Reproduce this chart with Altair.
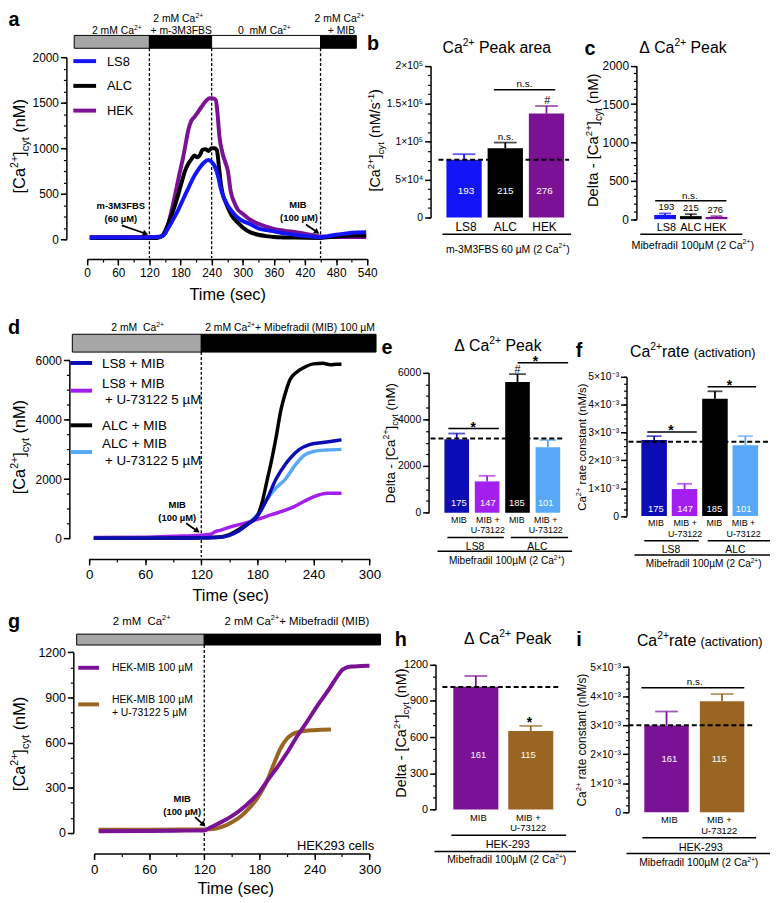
import math
import altair as alt
import pandas as pd

FONT = "Liberation Sans"
W, H = 770, 895

# ---------------- data ----------------
# (a) [Ca2+]cyt time courses (sec, nM)
a_ls8_t = [5, 30, 60, 90, 120, 135, 145, 155, 165, 175, 185, 195, 205, 215, 225, 233, 240, 246, 252, 258, 264, 271, 280, 290, 300, 315, 330, 345, 360, 380, 405, 430, 450, 465, 480, 500, 520, 538]
a_ls8_v = [20, 20, 20, 20, 22, 25, 35, 110, 210, 315, 440, 560, 680, 770, 840, 870, 850, 800, 700, 550, 450, 370, 300, 240, 200, 165, 120, 100, 87, 65, 47, 32, 22, 35, 50, 65, 75, 78]
a_alc_t = [5, 30, 60, 90, 120, 135, 145, 155, 165, 175, 182, 188, 195, 201, 207, 212, 218, 222, 228, 234, 240, 246, 250, 254, 258, 262, 266, 272, 280, 290, 300, 315, 330, 345, 360, 400, 450, 480, 510, 538]
a_alc_v = [15, 15, 15, 15, 15, 15, 40, 150, 300, 480, 620, 740, 830, 880, 920, 900, 930, 980, 990, 970, 1000, 1000, 980, 800, 600, 480, 420, 340, 250, 185, 130, 76, 50, 35, 25, 18, 15, 30, 40, 40]
a_hek_t = [5, 30, 60, 90, 120, 140, 150, 160, 170, 178, 185, 190, 195, 200, 207, 214, 220, 230, 236, 242, 248, 251, 255, 261, 266, 271, 277, 284, 290, 300, 315, 330, 345, 360, 380, 405, 430, 450, 480, 510, 538]
a_hek_v = [25, 25, 25, 25, 25, 28, 60, 250, 500, 720, 900, 1050, 1200, 1290, 1345, 1400, 1450, 1525, 1550, 1550, 1530, 1400, 1130, 945, 850, 760, 520, 400, 330, 280, 212, 170, 140, 115, 95, 75, 50, 30, 25, 25, 25]
a_cond_t0 = [-25, 120, 240, 450]
a_cond_t1 = [120, 240, 450, 519]
a_cond_fill = ["#a6a6a6", "#000000", "#ffffff", "#000000"]
a_marks = [120, 240, 450]

# (d) Mibefradil time courses
d_ls8_t = [5, 60, 100, 120, 140, 150, 160, 170, 180, 190, 200, 210, 215, 225, 235, 250, 265, 270]
d_ls8_v = [10, 10, 15, 20, 40, 100, 250, 480, 750, 1300, 2000, 2500, 2700, 3000, 3150, 3230, 3300, 3320]
d_lsu_t = [5, 60, 90, 120, 130, 135, 140, 152, 165, 180, 195, 210, 220, 230, 240, 255, 270]
d_lsu_v = [30, 40, 70, 110, 140, 230, 270, 400, 500, 640, 800, 950, 1080, 1250, 1400, 1520, 1520]
d_alc_t = [5, 60, 100, 120, 140, 150, 160, 170, 180, 185, 190, 195, 200, 205, 210, 215, 222, 230, 240, 250, 258, 265, 270]
d_alc_v = [10, 10, 15, 20, 50, 130, 300, 500, 760, 1200, 1900, 2600, 3400, 4300, 4900, 5350, 5600, 5760, 5880, 5900, 5850, 5870, 5870]
d_alu_t = [5, 60, 100, 120, 140, 150, 160, 170, 180, 190, 200, 210, 220, 230, 240, 255, 270]
d_alu_v = [10, 10, 15, 20, 40, 100, 280, 500, 800, 1300, 1700, 2000, 2450, 2800, 2930, 2980, 3000]
d_cond_t0 = [-18, 120]
d_cond_t1 = [120, 307]
d_cond_fill = ["#a6a6a6", "#000000"]

# (g) HEK293 time courses
g_mib_t = [5, 60, 100, 120, 125, 135, 150, 165, 180, 188, 200, 210, 221, 230, 242, 257, 265, 271, 280, 290, 300]
g_mib_v = [10, 12, 14, 15, 30, 60, 110, 180, 270, 340, 440, 530, 640, 720, 833, 965, 1040, 1086, 1105, 1108, 1110]
g_u_t = [5, 60, 100, 120, 130, 140, 150, 160, 170, 180, 188, 196, 203, 210, 216, 225, 240, 258]
g_u_v = [20, 20, 21, 22, 25, 40, 70, 110, 170, 250, 340, 460, 560, 625, 655, 672, 682, 686]
g_cond_t0 = [-19, 120]
g_cond_t1 = [120, 312]
g_cond_fill = ["#a6a6a6", "#000000"]

# bar panels
b_cats = ["LS8", "ALC", "HEK"]
b_mean = [76000, 91300, 137000]
b_sem = [7500, 7500, 10000]
b_n = ["193", "215", "276"]
b_ref = 76000
c_mean = [55, 40, 30]
c_sem = [20, 25, 10]
e_cats = ["LS8 MIB", "LS8 MIB+U", "ALC MIB", "ALC MIB+U"]
e_labels = ["MIB", "MIB +\nU-73122", "MIB", "MIB +\nU-73122"]
e_mean = [3140, 1340, 5600, 2800]
e_sem = [250, 240, 330, 310]
e_n = ["175", "147", "185", "101"]
e_ref = 3180
f_mean = [0.00273, 0.00097, 0.00421, 0.00254]
f_sem = [0.00014, 0.00019, 0.00027, 0.00033]
f_ref = 0.00267
h_cats = ["MIB", "MIB+U"]
h_labels = ["MIB", "MIB +\nU-73122"]
h_mean = [1017, 649]
h_sem = [88, 43]
h_n = ["161", "115"]
h_ref = 1014
i_mean = [0.00299, 0.00382]
i_sem = [0.00048, 0.00025]
i_ref = 0.0030

# colours
BLUE = "#1414f8"
PURP = "#7b1296"
DBLUE = "#0c0cb4"
MAG = "#a21ff0"
LBLUE = "#57a8f6"
BROWN = "#9a6522"

# ---------------- helpers ----------------
AW = {' ': 278, '\u00a0': 278, '#': 556, '(': 333, ')': 333, '*': 389, '+': 584, ',': 278, '-': 333,
      '.': 278, '/': 278, ':': 278, '[': 278, ']': 278, 'µ': 556, '×': 584, 'Δ': 668,
      'A': 667, 'B': 667, 'C': 722, 'D': 722, 'E': 667, 'F': 611, 'G': 778, 'H': 722, 'I': 278,
      'J': 500, 'K': 667, 'L': 556, 'M': 833, 'N': 722, 'O': 778, 'P': 667, 'Q': 778, 'R': 722,
      'S': 667, 'T': 611, 'U': 722, 'V': 667, 'W': 944, 'X': 667, 'Y': 667, 'Z': 611,
      'a': 556, 'b': 556, 'c': 500, 'd': 556, 'e': 556, 'f': 278, 'g': 556, 'h': 556, 'i': 222,
      'j': 222, 'k': 500, 'l': 222, 'm': 833, 'n': 556, 'o': 556, 'p': 556, 'q': 556, 'r': 333,
      's': 500, 't': 278, 'u': 556, 'v': 500, 'w': 722, 'x': 500, 'y': 500, 'z': 500}


def tw(s, size):
    return sum(AW.get(ch, 556) for ch in s) * size / 1000.0


def V(p):
    return p - 8


rows_left, rows_center, rows_bold, rule_rows, heads = [], [], [], [], []


def nb(s):
    return s.replace(' ', '\u00a0')


def add_center(x, y, text, size, bold=False, color='black'):
    row = dict(x=V(x), y=V(y + 0.35 * size), text=nb(text), size=size, angle=0, color=color)
    (rows_bold if bold else rows_center).append(row)


def add_rich(x, y, segs, size, angle=0, anchor='center', color='black'):
    parts = []
    for t, k in segs:
        if k == 'sup':
            s, sh = size * 0.65, -0.42 * size
        elif k == 'sub':
            s, sh = size * 0.68, 0.25 * size
        elif isinstance(k, (int, float)):
            s, sh = size * k, 0
        else:
            s, sh = size, 0
        parts.append((t, s, sh, tw(t, s)))
    total = sum(p[3] for p in parts)
    cum = {'center': -total / 2, 'left': 0, 'right': -total}[anchor]
    for t, s, sh, w in parts:
        body = t.lstrip(' ')
        pos = cum + tw(t[:len(t) - len(body)], s)
        if angle == 0:
            px, py = x + pos, y + 0.35 * size + sh
        else:
            px, py = x + 0.35 * size + sh, y - pos
        rows_left.append(dict(x=V(px), y=V(py), text=nb(body), size=s, angle=angle, color=color))
        cum += w


def add_line(x1, y1, x2, y2, color='black', w=1.5):
    rule_rows.append(dict(x=V(x1), x2=V(x2), y=V(y1), y2=V(y2), color=color, w=w))


def add_arrow(x1, y1, x2, y2):
    dx, dy = x2 - x1, y2 - y1
    L = math.hypot(dx, dy)
    ux, uy = dx / L, dy / L
    add_line(x1, y1, x2 - 4 * ux, y2 - 4 * uy, 'black', 1.8)
    heads.append(dict(x=V(x2 - 3 * ux), y=V(y2 - 3 * uy), ang=math.degrees(math.atan2(dx, -dy)) % 360))


def lin(d0, d1, p0, p1):
    return alt.Scale(domain=[d0, d1], range=[V(p0), V(p1)], nice=False, zero=False)


def band(cats, p0, p1, pi):
    return alt.Scale(domain=cats, range=[V(p0), V(p1)], paddingInner=pi, paddingOuter=0)


def axis_major(orient, pos, values, size, expr=None, pad=2):
    off = -V(pos) if orient == 'left' else V(pos) - H
    kw = dict(orient=orient, offset=off, values=values, title=None, grid=False,
              domainColor='black', domainWidth=1.5, tickColor='black', tickWidth=1.5, tickSize=6,
              labelFont=FONT, labelFontSize=size, labelColor='black', labelPadding=pad,
              labelOverlap=False, labelFlush=False)
    if expr:
        kw['labelExpr'] = expr
    else:
        kw['format'] = 'd'
    return alt.Axis(**kw)


def axis_minor(orient, pos, values):
    off = -V(pos) if orient == 'left' else V(pos) - H
    return alt.Axis(orient=orient, offset=off, values=values, title=None, grid=False, domain=False,
                    labels=False, tickColor='black', tickWidth=1.2, tickSize=3)


def steps(lo, hi, st):
    n = int(round((hi - lo) / st))
    return [round(lo + k * st, 8) for k in range(n + 1)]


def curve(t, v, color, sx, sy, width=4, xax=None, yax=None):
    df = pd.DataFrame({'t': t, 'v': v})
    return alt.Chart(df).mark_line(color=color, strokeWidth=width, interpolate='monotone').encode(
        x=alt.X('t:Q', scale=sx, axis=xax), y=alt.Y('v:Q', scale=sy, axis=yax))


def cond_bar(t0, t1, fills, sx, y0, y1):
    df = pd.DataFrame({'t0': t0, 't1': t1, 'fill': fills})
    return alt.Chart(df).mark_rect(stroke='black', strokeWidth=1).encode(
        x=alt.X('t0:Q', scale=sx, axis=None), x2='t1:Q',
        y=alt.value(V(y0)), y2=alt.value(V(y1)), fill=alt.Fill('fill:N', scale=None))


def vlines(ts, sx, y0, y1):
    df = pd.DataFrame({'t': ts})
    return alt.Chart(df).mark_rule(color='black', strokeWidth=1.3, strokeDash=[3, 2]).encode(
        x=alt.X('t:Q', scale=sx, axis=None), y=alt.value(V(y0)), y2=alt.value(V(y1)))


def bar_panel(cats, means, sems, colors, sx, sy, ymaj, ymin, capw, ref, ref_x0, ref_x1,
              nums, num_y=None, num_size=10, labels=None, label_y=None, label_size=12, lh=11,
              nums_above=False):
    n = len(cats)
    df = pd.DataFrame({'cat': cats, 'mean': means, 'base': [0] * n,
                       'top': [m + s for m, s in zip(means, sems)], 'col': colors,
                       'n': nums, 'label': labels if labels else cats})
    X = alt.X('cat:N', scale=sx, axis=None)
    C = alt.Color('col:N', scale=None)
    out = []
    out.append(alt.Chart(df).mark_rule(strokeWidth=1.8).encode(
        x=X, y=alt.Y('mean:Q', scale=sy, axis=ymin), y2='top:Q', color=C))
    out.append(alt.Chart(df).mark_tick(orient='horizontal', thickness=1.8, size=capw).encode(
        x=X, y=alt.Y('top:Q', scale=sy, axis=None), color=C))
    out.append(alt.Chart(df).mark_bar().encode(
        x=X, y=alt.Y('mean:Q', scale=sy, axis=ymaj), y2='base:Q', color=C))
    if ref is not None:
        out.append(alt.Chart(pd.DataFrame({'ref': [ref]})).mark_rule(
            color='black', strokeWidth=2, strokeDash=[5, 3]).encode(
            y=alt.Y('ref:Q', scale=sy, axis=None), x=alt.value(V(ref_x0)), x2=alt.value(V(ref_x1))))
    if nums_above:
        out.append(alt.Chart(df).mark_text(font=FONT, fontSize=num_size, color='black',
                                           baseline='alphabetic', dy=-3).encode(
            x=X, y=alt.Y('top:Q', scale=sy, axis=None), text='n:N'))
    else:
        out.append(alt.Chart(df).mark_text(font=FONT, fontSize=num_size, color='white',
                                           baseline='alphabetic').encode(
            x=X, y=alt.value(V(num_y + 0.35 * num_size)), text='n:N'))
    out.append(alt.Chart(df).mark_text(font=FONT, fontSize=label_size, color='black',
                                       baseline='alphabetic', lineBreak='\n', lineHeight=lh).encode(
        x=X, y=alt.value(V(label_y + 0.35 * label_size)), text='label:N'))
    return out


layers = []

# ---------------- panel a ----------------
Sa_x = lin(0, 540, 88, 371)
Sa_y = lin(0, 2000, 237, 53)
layers.append(cond_bar(a_cond_t0, a_cond_t1, a_cond_fill, Sa_x, 31, 44))
layers.append(vlines(a_marks, Sa_x, 44, 256))
layers.append(curve(a_hek_t, a_hek_v, PURP, Sa_x, Sa_y,
                    xax=axis_major('bottom', 257, steps(0, 540, 60), 12, pad=3),
                    yax=axis_major('left', 67, steps(0, 2000, 500), 12)))
layers.append(curve(a_alc_t, a_alc_v, 'black', Sa_x, Sa_y,
                    xax=axis_minor('bottom', 257, steps(0, 540, 30)),
                    yax=axis_minor('left', 67, steps(0, 2000, 125))))
layers.append(curve(a_ls8_t, a_ls8_v, BLUE, Sa_x, Sa_y))

# ---------------- panel d ----------------
Sd_x = lin(0, 300, 90, 373.3)
Sd_y = lin(0, 6000, 539.3, 359.3)
layers.append(cond_bar(d_cond_t0, d_cond_t1, d_cond_fill, Sd_x, 333, 351))
layers.append(vlines([120], Sd_x, 351, 558))
layers.append(curve(d_lsu_t, d_lsu_v, MAG, Sd_x, Sd_y, width=3.5,
                    xax=axis_major('bottom', 560, steps(0, 300, 60), 13.5, pad=3),
                    yax=axis_major('left', 70, steps(0, 6000, 2000), 12)))
layers.append(curve(d_alu_t, d_alu_v, LBLUE, Sd_x, Sd_y, width=3.5,
                    xax=axis_minor('bottom', 560, steps(0, 300, 30)),
                    yax=axis_minor('left', 70, steps(0, 6000, 500))))
layers.append(curve(d_alc_t, d_alc_v, 'black', Sd_x, Sd_y, width=3.5))
layers.append(curve(d_ls8_t, d_ls8_v, DBLUE, Sd_x, Sd_y, width=3.5))

# ---------------- panel g ----------------
Sg_x = lin(0, 300, 95, 373.3)
Sg_y = lin(0, 1200, 836.7, 654.3)
layers.append(cond_bar(g_cond_t0, g_cond_t1, g_cond_fill, Sg_x, 636, 647))
layers.append(vlines([120], Sg_x, 647, 856))
layers.append(curve(g_u_t, g_u_v, BROWN, Sg_x, Sg_y,
                    xax=axis_major('bottom', 857.7, steps(0, 300, 60), 13.5, pad=3),
                    yax=axis_major('left', 74, steps(0, 1200, 300), 12.5)))
layers.append(curve(g_mib_t, g_mib_v, PURP, Sg_x, Sg_y,
                    xax=axis_minor('bottom', 857.7, steps(0, 300, 30)),
                    yax=axis_minor('left', 74, steps(0, 1200, 100))))

# ---------------- bar panels ----------------
EXP_B = ("datum.value == 0 ? '0' : datum.value == 50000 ? '5×10⁴' : datum.value == 100000 ? '1×10⁵'"
         " : datum.value == 150000 ? '1.5×10⁵' : '2×10⁵'")
EXP_M = "datum.value < 0.0005 ? '0' : round(datum.value*1000) + '×10⁻³'"

layers += bar_panel(b_cats, b_mean, b_sem, [BLUE, 'black', PURP],
                    band(b_cats, 451, 570, 0.143), lin(0, 200000, 215, 61.7),
                    axis_major('left', 435, steps(0, 200000, 50000), 10.5, expr=EXP_B),
                    axis_minor('left', 435, steps(0, 200000, 12500)), 23, b_ref, 443, 575,
                    b_n, num_y=188, num_size=10, label_y=224, label_size=12)
layers += bar_panel(b_cats, c_mean, c_sem, [BLUE, 'black', PURP],
                    band(b_cats, 661, 735, 0.154), lin(0, 2000, 216.7, 61.7),
                    axis_major('left', 643, steps(0, 2000, 500), 12),
                    axis_minor('left', 643, steps(0, 2000, 100)), 12, None, 0, 0,
                    b_n, num_size=9.5, label_y=225, label_size=11, nums_above=True)
layers += bar_panel(e_cats, e_mean, e_sem, [DBLUE, MAG, 'black', LBLUE],
                    band(e_cats, 449, 566, 0.19), lin(0, 6000, 513.3, 371.7),
                    axis_major('left', 433, steps(0, 6000, 2000), 10.5),
                    axis_minor('left', 433, steps(0, 6000, 500)), 17, e_ref, 435, 571,
                    e_n, num_y=503, num_size=9.5, labels=e_labels, label_y=521, label_size=9, lh=10)
layers += bar_panel(e_cats, f_mean, f_sem, [DBLUE, MAG, 'black', LBLUE],
                    band(e_cats, 648, 766, 0.16), lin(0, 0.005, 516.7, 376),
                    axis_major('left', 633, steps(0, 0.005, 0.001), 10.5, expr=EXP_M),
                    axis_minor('left', 633, steps(0, 0.005, 0.00025)), 15, f_ref, 635, 777,
                    e_n, num_y=509, num_size=9.5, labels=e_labels, label_y=524, label_size=9, lh=11)
layers += bar_panel(h_cats, h_mean, h_sem, [PURP, BROWN],
                    band(h_cats, 458, 559, 0.18), lin(0, 1200, 813.3, 666.7),
                    axis_major('left', 440, steps(0, 1200, 300), 11),
                    axis_minor('left', 440, steps(0, 1200, 100)), 23, h_ref, 447, 565,
                    h_n, num_y=758, num_size=9.5, labels=h_labels, label_y=822, label_size=9.5, lh=10)
layers += bar_panel(h_cats, i_mean, i_sem, [PURP, BROWN],
                    band(h_cats, 651, 752, 0.2), lin(0, 0.005, 816, 669.3),
                    axis_major('left', 635, steps(0, 0.005, 0.001), 10.5, expr=EXP_M),
                    axis_minor('left', 635, steps(0, 0.005, 0.00025)), 23, i_ref, 635, 760,
                    h_n, num_y=762, num_size=9.5, labels=h_labels, label_y=824, label_size=9.5, lh=11)

# ---------------- annotations ----------------
CA = [('Ca', 'n'), ('2+', 'sup')]
YT = [('[Ca', 'n'), ('2+', 'sup'), (']', 'n'), ('cyt', 'sub'), (' (nM)', 'n')]
DT = [('Delta - [Ca', 'n'), ('2+', 'sup'), (']', 'n'), ('cyt', 'sub'), (' (nM)', 'n')]
RT = [('Ca', 'n'), ('2+', 'sup'), (' rate constant (nM/s)', 'n')]
MIBCAP = [('Mibefradil 100µM (2 Ca', 'n'), ('2+', 'sup'), (')', 'n')]

# panel letters
for L, x, y in [('a', 14, 14), ('b', 377, 39), ('c', 596, 44), ('d', 14, 326), ('e', 391, 346),
                ('f', 585, 349), ('g', 14, 623), ('h', 405, 641), ('i', 585, 641)]:
    add_center(x, y, L, 20, bold=True)

# panel a
add_rich(118, 26, [('2 mM Ca', 'n'), ('2+', 'sup')], 10.5)
add_rich(180, 14, [('2 mM Ca', 'n'), ('2+', 'sup')], 10.5)
add_rich(183, 26, [('+ m-3M3FBS', 'n')], 10.5)
add_rich(267, 26, [('0  mM Ca', 'n'), ('2+', 'sup')], 10.5)
add_rich(343, 14, [('2 mM Ca', 'n'), ('2+', 'sup')], 10.5)
add_rich(345, 26, [('+ MIB', 'n')], 10.5)
for y, col, lab in [(57, BLUE, 'LS8'), (82, 'black', 'ALC'), (107, PURP, 'HEK')]:
    add_line(74, y, 97, y, col, 4)
    add_rich(108, y, [(lab, 'n')], 13, anchor='left')
add_center(122, 203, 'm-3M3FBS', 9.5, bold=True)
add_center(122, 216, '(60 µM)', 9.5, bold=True)
add_center(301, 202, 'MIB', 9.5, bold=True)
add_center(302, 215, '(100 µM)', 9.5, bold=True)
add_arrow(123, 223, 149, 232)
add_arrow(309, 222, 322, 231)
add_rich(19.5, 143, YT, 16.5, angle=270)
add_center(230, 293, 'Time (sec)', 16.5)

# panel b
add_rich(502, 43, CA + [(' Peak area', 'n')], 16)
add_rich(379, 137, [('[Ca', 'n'), ('2+', 'sup'), (']', 'n'), ('cyt', 'sub'), (' (nM/s', 'n'),
                    ('-1', 'sup'), (')', 'n')], 14.5, angle=270)
add_center(511, 133, 'n.s.', 10)
add_line(499, 86, 561, 86)
add_center(530, 80, 'n.s.', 10)
add_center(553, 96, '#', 11)
add_line(447, 232, 577, 232)
add_rich(513, 247, [('m-3M3FBS 60 µM (2 Ca', 'n'), ('2+', 'sup'), (')', 'n')], 10.5)

# panel c
add_rich(690, 43, [('Δ Ca', 'n'), ('2+', 'sup'), (' Peak', 'n')], 16)
add_rich(599, 137, DT, 15, angle=270)
add_line(662, 198, 734, 198)
add_center(697, 193, 'n.s.', 10)
add_line(647, 232, 750, 232)
add_rich(700, 243, MIBCAP, 10.8)

# panel d
add_rich(139, 326, [('2 mM  Ca', 'n'), ('2+', 'sup')], 10.5)
add_rich(293, 326, [('2 mM Ca', 'n'), ('2+', 'sup'), ('+ Mibefradil (MIB) 100 µM', 'n')], 10.5)
for y, col in [(362, DBLUE), (390, MAG), (425, 'black'), (452, LBLUE)]:
    add_line(71, y, 93, y, col, 4)
for x, y, t in [(103, 362, 'LS8 + MIB'), (103, 383, 'LS8 + MIB'), (106, 399, '+ U-73122 5 µM'),
                (103, 425, 'ALC + MIB'), (103, 443, 'ALC + MIB'), (106, 460, '+ U-73122 5 µM')]:
    add_rich(x, y, [(t, 'n')], 13.5, anchor='left')
add_center(179, 505, 'MIB', 9.5, bold=True)
add_center(179, 518, '(100 µM)', 9.5, bold=True)
add_arrow(188, 524, 201, 533)
add_rich(19.5, 447, YT, 16.5, angle=270)
add_center(233, 597, 'Time (sec)', 16.5)

# panel e
add_rich(503, 344, [('Δ Ca', 'n'), ('2+', 'sup'), (' Peak', 'n')], 16)
add_rich(394, 443, DT, 13.5, angle=270)
add_line(453, 428.3, 504, 428.3)
add_center(478, 424 + 3, '*', 14, bold=True)
add_line(523, 361.7, 574, 361.7)
add_center(541, 357 + 3, '*', 14, bold=True)
add_center(523, 368, '#', 11)
add_line(452, 538.3, 509, 538.3)
add_line(516, 538.3, 574, 538.3)
add_center(480, 547, 'LS8', 10.5)
add_center(543, 547, 'ALC', 10.5)
add_line(442, 552.3, 578, 552.3)
add_rich(512, 562, MIBCAP, 10.2)

# panel f
add_rich(700, 350, CA + [('rate ', 'n'), ('(activation)', 0.8)], 16)
add_rich(588, 447, RT, 11.5, angle=270)
add_line(654, 431.7, 704, 431.7)
add_center(678, 427 + 3, '*', 14, bold=True)
add_line(715, 386, 764, 386)
add_center(737, 381 + 3, '*', 14, bold=True)
add_line(651, 541.7, 706, 541.7)
add_line(715, 541.7, 778, 541.7)
add_center(678, 550, 'LS8', 10.5)
add_center(743, 550, 'ALC', 10.5)
add_line(641, 556, 778, 556)
add_rich(711, 565, MIBCAP, 10.2)

# panel g
add_rich(143, 623, [('2 mM  Ca', 'n'), ('2+', 'sup')], 11.5)
add_rich(300, 623, [('2 mM Ca', 'n'), ('2+', 'sup'), ('+ Mibefradil (MIB)', 'n')], 11.5)
for y, col in [(670, PURP), (707, BROWN)]:
    add_line(79, y, 100, y, col, 4)
for y, t in [(670, 'HEK-MIB 100 µM'), (702, 'HEK-MIB 100 µM'), (715, '+ U-73122 5 µM')]:
    add_rich(113, y, [(t, 'n')], 10.5, anchor='left')
add_center(184, 802, 'MIB', 9.5, bold=True)
add_center(184, 815, '(100 µM)', 9.5, bold=True)
add_arrow(197, 821, 207, 830)
add_rich(378, 850, [('HEK293 cells', 'n')], 13, anchor='right')
add_rich(19.5, 747, YT, 16.5, angle=270)
add_center(238, 893, 'Time (sec)', 16.5)

# panel h
add_rich(513, 640, [('Δ Ca', 'n'), ('2+', 'sup'), (' Peak', 'n')], 16)
add_rich(405, 736, DT, 14.5, angle=270)
add_center(535, 722 + 3, '*', 14, bold=True)
add_line(456, 839.3, 572, 839.3)
add_center(513, 848, 'HEK-293', 11)
add_line(439, 855.7, 582, 855.7)
add_rich(512, 864, MIBCAP, 10.5)

# panel i
add_rich(707, 642, CA + [('rate ', 'n'), ('(activation)', 0.8)], 16)
add_rich(588, 743, RT, 12, angle=270)
add_line(648, 690.3, 752, 690.3)
add_center(702, 684, 'n.s.', 10)
add_line(649, 841.7, 764, 841.7)
add_center(708, 851, 'HEK-293', 11)
add_line(633, 857.7, 778, 857.7)
add_rich(706, 867, MIBCAP, 10.5)

# annotation layers
layers.append(alt.Chart(pd.DataFrame(rule_rows)).mark_rule().encode(
    x=alt.X('x:Q', scale=None, axis=None), x2='x2:Q',
    y=alt.Y('y:Q', scale=None, axis=None), y2='y2:Q',
    color=alt.Color('color:N', scale=None),
    strokeWidth=alt.StrokeWidth('w:Q', scale=None, legend=None)))
layers.append(alt.Chart(pd.DataFrame(heads)).mark_point(
    shape='triangle', filled=True, size=42, color='black', opacity=1).encode(
    x=alt.X('x:Q', scale=None, axis=None), y=alt.Y('y:Q', scale=None, axis=None),
    angle=alt.Angle('ang:Q', scale=None, legend=None)))


def text_layer(rows, align, bold=False):
    return alt.Chart(pd.DataFrame(rows)).mark_text(
        align=align, baseline='alphabetic', font=FONT,
        fontWeight='bold' if bold else 'normal').encode(
        x=alt.X('x:Q', scale=None, axis=None), y=alt.Y('y:Q', scale=None, axis=None),
        text='text:N', size=alt.Size('size:Q', scale=None, legend=None),
        angle=alt.Angle('angle:Q', scale=None, legend=None),
        color=alt.Color('color:N', scale=None, legend=None))


layers.append(text_layer(rows_left, 'left'))
layers.append(text_layer(rows_center, 'center'))
layers.append(text_layer(rows_bold, 'center', bold=True))

chart = alt.layer(*layers).resolve_scale(x='independent', y='independent').properties(
    width=W, height=H, autosize=alt.AutoSizeParams(type='none'), padding=0,
    background='white').configure_view(stroke=None)

chart.save("out.html", embed_options={"renderer": "svg", "actions": False})
